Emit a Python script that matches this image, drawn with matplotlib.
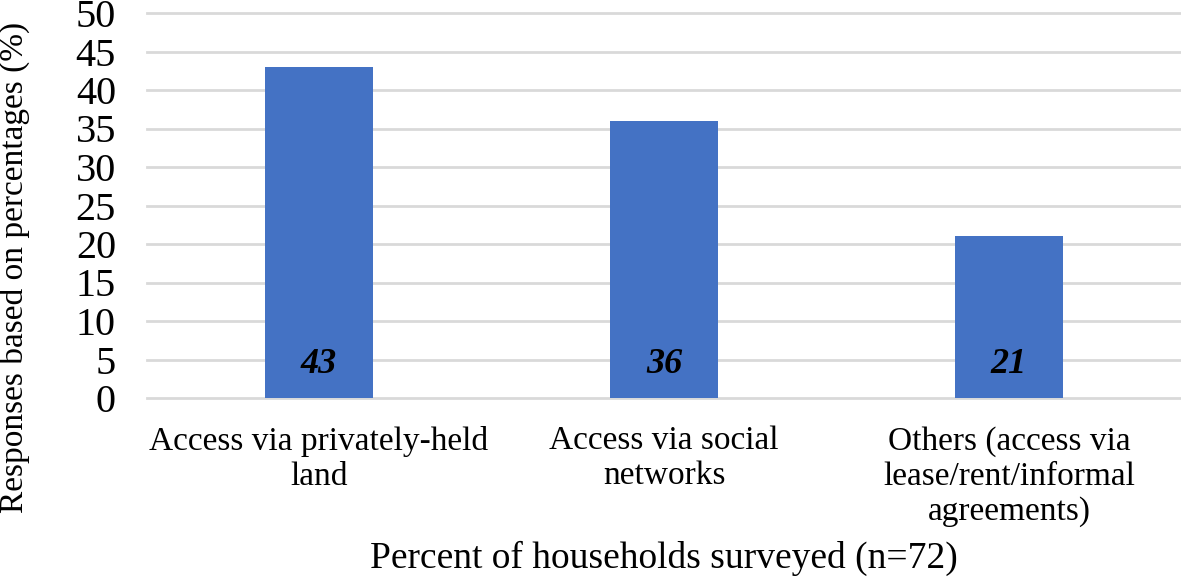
import matplotlib.pyplot as plt

categories = ['Access via privately-held\nland', 'Access via social\nnetworks',
              'Others (access via\nlease/rent/informal\nagreements)']
values = [43, 36, 21]
yticks = [0, 5, 10, 15, 20, 25, 30, 35, 40, 45, 50]

plt.rcParams['font.family'] = ['Liberation Serif', 'DejaVu Serif']

fig = plt.figure(figsize=(11.81, 5.82), dpi=100)
ax = fig.add_axes([146.5 / 1181, 1 - 398 / 582, 1035 / 1181, 385 / 582])

x = range(len(categories))
bars = ax.bar(x, values, width=0.315, color='#4472C4', zorder=3)

for xi, v in zip(x, values):
    ax.annotate(str(v), xy=(xi, 0), xytext=(0, 12), textcoords='offset points',
                ha='center', va='bottom', fontsize=26, fontweight='bold',
                fontstyle='italic', color='black', zorder=4)

ax.set_xlim(-0.5, len(categories) - 0.5)
ax.set_ylim(0, 50)
ax.set_yticks(yticks)
ax.set_xticks(list(x))
ax.set_xticklabels(categories, fontsize=24, linespacing=1.2)
ax.tick_params(axis='y', labelsize=29, length=0, pad=22)
ax.tick_params(axis='x', length=0, pad=20)

ax.grid(axis='y', color='#d9d9d9', linewidth=2, zorder=0)
for gl in ax.get_ygridlines():
    gl.set_clip_on(False)
for s in ax.spines.values():
    s.set_visible(False)

ylab = ax.set_ylabel('Responses based on percentages (%)', fontsize=24)
ylab.set_verticalalignment('center')
ylab.set_horizontalalignment('center')
ax.yaxis.set_label_coords(-0.128, 0.34)
ax.set_xlabel('Percent of households surveyed (n=72)', fontsize=27, labelpad=10)

fig.savefig('out.png', dpi=100)
